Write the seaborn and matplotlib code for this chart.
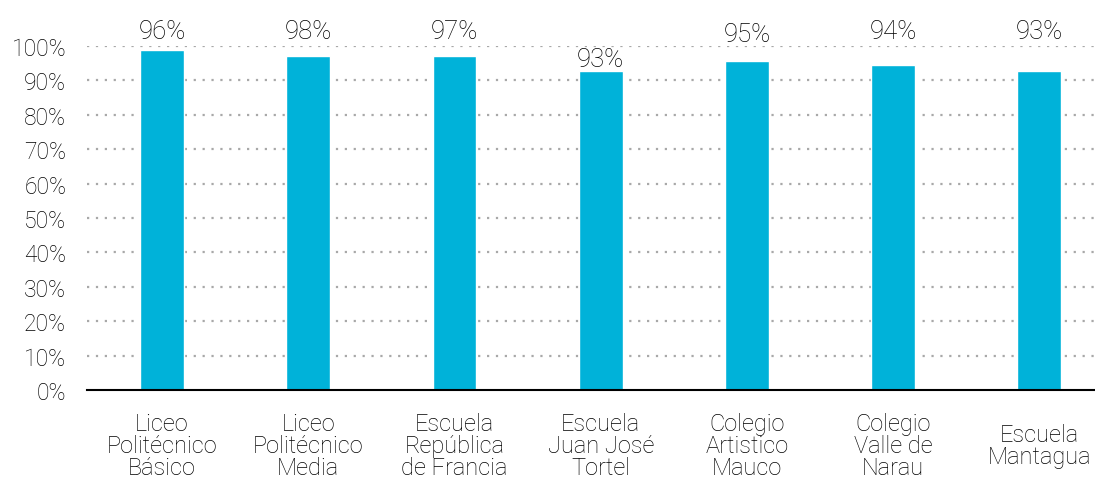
import matplotlib
matplotlib.use("Agg")
import matplotlib.pyplot as plt
import seaborn as sns
import pandas as pd

# data
schools = [
    "Liceo\nPolitécnico\nBásico",
    "Liceo\nPolitécnico\nMedia",
    "Escuela\nRepública\nde Francia",
    "Escuela\nJuan José\nTortel",
    "Colegio\nArtistico\nMauco",
    "Colegio\nValle de\nNarau",
    "Escuela\nMantagua",
]
values = [98.7, 97.2, 97.2, 92.8, 95.7, 94.5, 92.8]
value_labels = ["96%", "98%", "97%", "93%", "95%", "94%", "93%"]
label_heights = [102.2, 102.2, 102.2, 94.1, 101.5, 102.2, 102.2]
yticks = list(range(0, 101, 10))

df = pd.DataFrame({"school": schools, "value": values})

sns.set_style("white")
plt.rcParams["font.family"] = ["Liberation Sans Narrow", "Roboto", "DejaVu Sans"]
plt.rcParams["font.weight"] = "light"

fig = plt.figure(figsize=(10.95, 4.81), dpi=100)
ax = fig.add_axes([87 / 1095, 1 - 391 / 481, 1008 / 1095, 344 / 481])

sns.barplot(data=df, x="school", y="value", color="#00B2D9", width=0.3,
            saturation=1, ax=ax, zorder=3)

# dotted grid lines
for t in yticks[1:]:
    ax.axhline(t, color="#a8a8a8", linestyle=(0, (1, 3)), linewidth=1.6, zorder=1)

ax.set_xlim(-0.513, 6.38)
ax.set_ylim(0, 100)
ax.set_yticks(yticks)
ax.set_yticklabels([f"{t}%" for t in yticks], fontsize=16.5, color="#000000")
ax.tick_params(axis="y", length=0, pad=15)
ax.tick_params(axis="x", length=0, pad=40)
ax.set_xticks(range(len(schools)))
ax.set_xticklabels(schools, fontsize=17, color="#000000", linespacing=0.95)
for lab in ax.get_xticklabels():
    lab.set_va("center")
    lab.set_ha("center")
    lab.set_multialignment("center")

for i, (lab, h) in enumerate(zip(value_labels, label_heights)):
    ax.text(i, h, lab, ha="center", va="baseline", fontsize=18.5,
            color="#000000", clip_on=False)

ax.set_xlabel("")
ax.set_ylabel("")
for s in ["top", "right", "left"]:
    ax.spines[s].set_visible(False)
ax.spines["bottom"].set_color("black")
ax.spines["bottom"].set_linewidth(1.5)
ax.spines["bottom"].set_zorder(4)

fig.savefig("out.png", dpi=100)
